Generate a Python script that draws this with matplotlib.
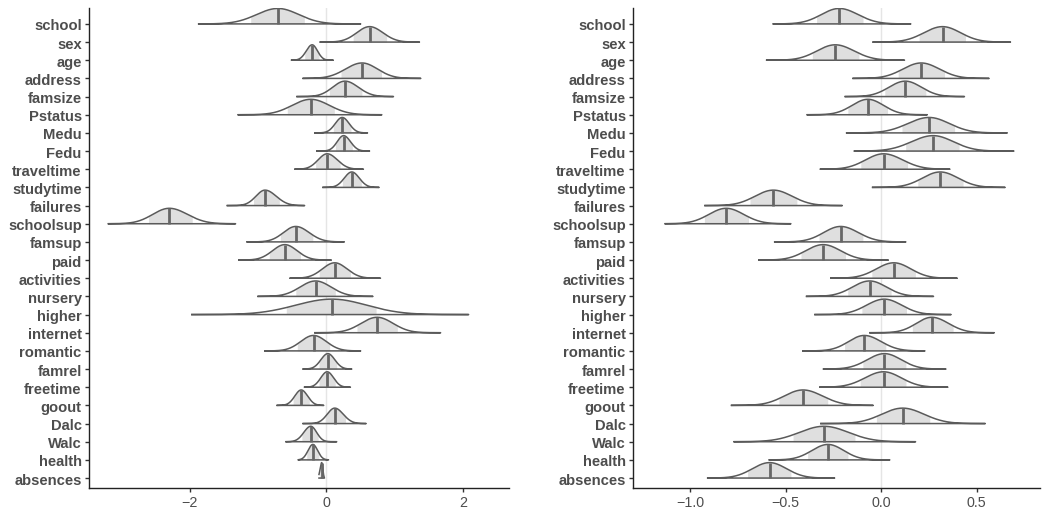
import numpy as np
import matplotlib.pyplot as plt

params = ["school", "sex", "age", "address", "famsize", "Pstatus", "Medu", "Fedu",
          "traveltime", "studytime", "failures", "schoolsup", "famsup", "paid",
          "activities", "nursery", "higher", "internet", "romantic", "famrel",
          "freetime", "goout", "Dalc", "Walc", "health", "absences"]

# left panel: median, 80% interval, full range
left_med = [-0.71, 0.63, -0.21, 0.52, 0.27, -0.23, 0.23, 0.25, 0.01, 0.37, -0.90, -2.30, -0.45,
            -0.61, 0.12, -0.16, 0.08, 0.74, -0.19, 0.02, 0.01, -0.37, 0.12, -0.23, -0.20, -0.07]
left_lo80 = [-1.11, 0.39, -0.32, 0.21, 0.04, -0.58, 0.10, 0.13, -0.16, 0.23, -1.07, -2.61, -0.68,
             -0.84, -0.11, -0.45, -0.60, 0.44, -0.43, -0.11, -0.11, -0.49, -0.02, -0.36, -0.29, -0.10]
left_hi80 = [-0.32, 0.88, -0.11, 0.81, 0.52, 0.12, 0.36, 0.38, 0.20, 0.51, -0.69, -1.96, -0.20,
             -0.38, 0.35, 0.13, 0.73, 1.04, 0.05, 0.15, 0.13, -0.25, 0.28, -0.12, -0.11, -0.05]
left_lo = [-1.87, -0.09, -0.51, -0.34, -0.43, -1.29, -0.17, -0.14, -0.46, -0.05, -1.45, -3.19, -1.16,
           -1.28, -0.53, -1.00, -1.97, -0.17, -0.90, -0.34, -0.32, -0.72, -0.34, -0.59, -0.41, -0.11]
left_hi = [0.50, 1.36, 0.10, 1.38, 0.98, 0.81, 0.60, 0.63, 0.54, 0.77, -0.32, -1.33, 0.26,
           0.07, 0.79, 0.68, 2.08, 1.67, 0.50, 0.37, 0.35, -0.04, 0.58, 0.15, 0.03, -0.03]

# right panel
right_med = [-0.220, 0.321, -0.241, 0.209, 0.126, -0.070, 0.251, 0.272, 0.012, 0.309, -0.565, -0.812,
             -0.213, -0.304, 0.066, -0.061, 0.016, 0.265, -0.089, 0.017, 0.012, -0.410, 0.112, -0.300,
             -0.279, -0.585]
right_lo80 = [-0.340, 0.197, -0.363, 0.087, 0.017, -0.176, 0.108, 0.127, -0.108, 0.190, -0.688, -0.928,
              -0.326, -0.421, -0.051, -0.176, -0.103, 0.161, -0.194, -0.098, -0.112, -0.536, -0.028,
              -0.464, -0.387, -0.700]
right_hi80 = [-0.094, 0.442, -0.115, 0.332, 0.234, 0.035, 0.387, 0.408, 0.140, 0.429, -0.440, -0.695,
              -0.094, -0.187, 0.180, 0.052, 0.133, 0.377, 0.024, 0.129, 0.131, -0.279, 0.255, -0.136,
              -0.173, -0.471]
right_lo = [-0.565, -0.042, -0.600, -0.147, -0.188, -0.387, -0.181, -0.140, -0.318, -0.045, -0.923,
            -1.131, -0.558, -0.640, -0.264, -0.391, -0.347, -0.059, -0.410, -0.302, -0.321, -0.784,
            -0.316, -0.770, -0.586, -0.909]
right_hi = [0.155, 0.677, 0.122, 0.565, 0.436, 0.241, 0.660, 0.695, 0.360, 0.649, -0.204, -0.473,
            0.129, 0.037, 0.398, 0.274, 0.366, 0.592, 0.229, 0.339, 0.349, -0.042, 0.545, 0.180,
            0.045, -0.244]

LINE = "#5a5a5a"
FILL = "#dfdfdf"
TEXT = "#4d4d4d"
HEIGHT = 0.85
Z80 = 1.2816

plt.rcParams['font.family'] = ['Liberation Sans', 'DejaVu Sans']


def draw_areas(ax, med, lo80, hi80, lo, hi, xlim, xticks, xticklabels):
    n = len(params)
    ax.axvline(0, color="#e5e5e5", lw=1.0, zorder=0.5)
    for i in range(n):
        base = n - 1 - i
        sl = (med[i] - lo80[i]) / Z80
        sr = (hi80[i] - med[i]) / Z80
        x = np.linspace(lo[i], hi[i], 300)
        s = np.where(x < med[i], sl, sr)
        d = np.exp(-0.5 * ((x - med[i]) / s) ** 2)
        y = base + HEIGHT * d
        inner = (x >= lo80[i]) & (x <= hi80[i])
        ax.fill_between(x[inner], base, y[inner], color=FILL, lw=0, zorder=1)
        ax.plot(np.r_[x, x[::-1][:1], x[0]], np.r_[y, base, base], color=LINE, lw=1.1, zorder=2,
                solid_joinstyle="round")
        ax.plot([med[i], med[i]], [base, base + HEIGHT], color="#666666", lw=2.0, zorder=3,
                solid_capstyle="butt")
    ax.set_ylim(-0.53, n - 1 + 0.86)
    ax.set_xlim(*xlim)
    ax.set_yticks(range(n))
    ax.set_yticklabels(params[::-1], fontweight="bold", fontsize=10.6, color=TEXT)
    ax.set_xticks(xticks)
    ax.set_xticklabels(xticklabels, fontsize=10.3, color=TEXT)
    for side in ["top", "right"]:
        ax.spines[side].set_visible(False)
    for side in ["left", "bottom"]:
        ax.spines[side].set_color("#222222")
        ax.spines[side].set_linewidth(1.0)
    ax.tick_params(axis="both", length=3, width=1, color="#333333", pad=2)


fig = plt.figure(figsize=(10.43, 5.10), dpi=100)
ax1 = fig.add_axes([0.0850, 0.0418, 0.403, 0.940])
ax2 = fig.add_axes([0.6066, 0.0418, 0.3904, 0.940])

draw_areas(ax1, left_med, left_lo80, left_hi80, left_lo, left_hi,
           (-3.48, 2.67), [-2, 0, 2], ["\u22122", "0", "2"])
draw_areas(ax2, right_med, right_lo80, right_hi80, right_lo, right_hi,
           (-1.302, 0.831), [-1.0, -0.5, 0.0, 0.5], ["\u22121.0", "\u22120.5", "0.0", "0.5"])

fig.savefig("out.png", dpi=100)
